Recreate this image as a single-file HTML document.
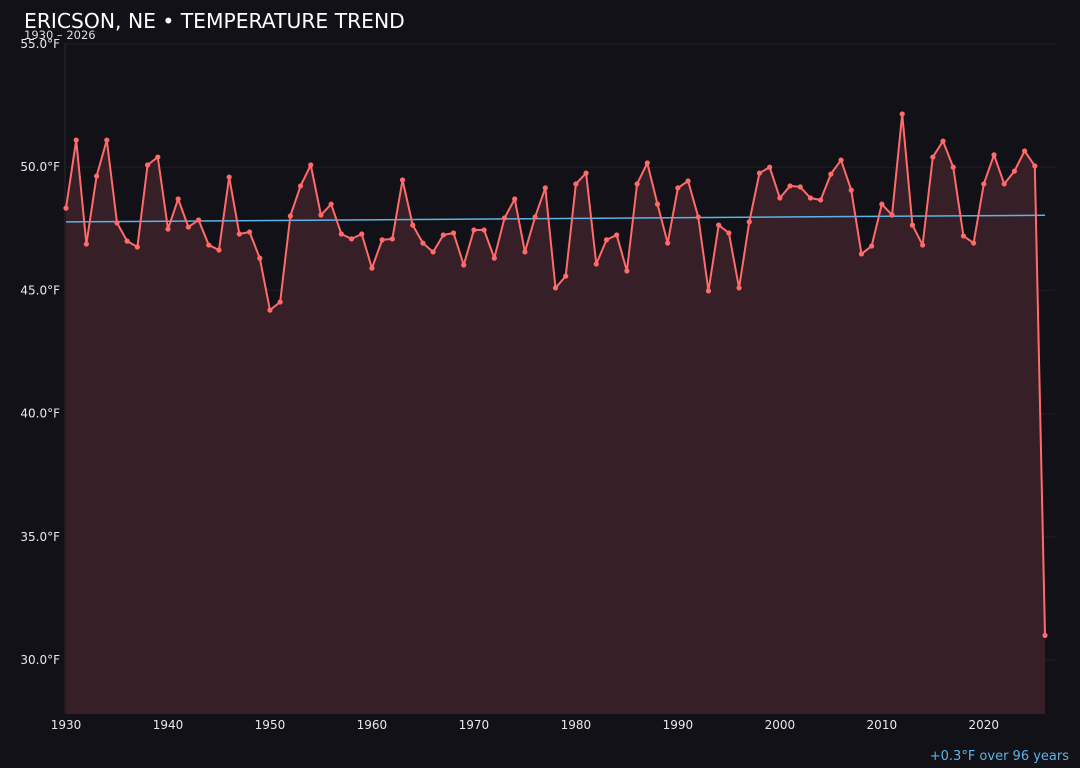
<!DOCTYPE html>
<html><head><meta charset="utf-8"><style>
html,body{margin:0;background:#121117;width:1080px;height:768px;overflow:hidden;font-family:"DejaVu Sans","Liberation Sans",sans-serif}
svg{display:block}
</style></head><body>
<svg id="chart" width="1080" height="768" xmlns="http://www.w3.org/2000/svg" font-family="DejaVu Sans, Liberation Sans, sans-serif">
<rect width="1080" height="768" fill="#121117"/>
<text x="24" y="28" fill="#ffffff" font-size="20.3">ERICSON, NE • TEMPERATURE TREND</text>
<text x="24" y="39" fill="#dddddd" font-size="11.5">1930 – 2026</text>
<text x="1069" y="760" fill="#5ab4e8" font-size="13" text-anchor="end">+0.3°F over 96 years</text>
<g id="grid"></g><g id="axes"></g><g id="marks"></g>
</svg>
<script>
const years=[];for(let y=1930;y<=2026;y++)years.push(y);
const temps=[48.34,51.1,46.88,49.64,51.1,47.74,47.0,46.76,50.09,50.41,47.49,48.71,47.57,47.86,46.84,46.64,49.6,47.29,47.37,46.31,44.2,44.53,48.02,49.24,50.09,48.06,48.5,47.29,47.09,47.29,45.9,47.05,47.09,49.48,47.65,46.92,46.56,47.25,47.33,46.03,47.45,47.45,46.31,47.94,48.71,46.56,47.98,49.16,45.1,45.58,49.32,49.76,46.07,47.05,47.25,45.79,49.32,50.17,48.5,46.92,49.16,49.44,47.98,44.98,47.65,47.33,45.1,47.78,49.76,50.0,48.75,49.24,49.2,48.75,48.67,49.72,50.29,49.07,46.48,46.8,48.5,48.06,52.16,47.65,46.84,50.41,51.06,50.0,47.21,46.92,49.32,50.5,49.32,49.84,50.66,50.05,31.0];
const yTicks=[30,35,40,45,50,55];
const xTicks=[1930,1940,1950,1960,1970,1980,1990,2000,2010,2020];
const trendStart=47.78, trendEnd=48.05;
const NS="http://www.w3.org/2000/svg";
const L=65,R=1055,B=714;
const x=v=>66+(v-1930)*(1045-66)/96;
const y=v=>44+(55-v)*24.64;
function mk(tag,attrs,parent){const e=document.createElementNS(NS,tag);for(const k in attrs)e.setAttribute(k,attrs[k]);document.getElementById(parent).appendChild(e);return e;}
yTicks.forEach(t=>{
 const g=mk('line',{x1:L,x2:R,y1:y(t),y2:y(t),stroke:'#1f1e25','stroke-width':1},'grid');
 
 
 const tx=mk('text',{x:60,y:y(t)+4,fill:'#e8e8e8','font-size':12,'text-anchor':'end'},'axes');
 tx.textContent=t.toFixed(1)+'°F';
 
 
});
const ax=mk('line',{x1:L,x2:L,y1:44,y2:B,stroke:'#2a2930'},'axes');


xTicks.forEach(t=>{
 const tx=mk('text',{x:x(t),y:729,fill:'#e8e8e8','font-size':12,'text-anchor':'middle'},'axes');
 tx.textContent=t;
 
 
});
let d='';years.forEach((yr,i)=>{d+=(i?'L':'M')+x(yr)+','+y(temps[i]);});
const area=mk('path',{d:d+'L'+x(2026)+','+B+'L'+x(1930)+','+B+'Z',fill:'#361f26'},'marks');


const tl=mk('line',{x1:x(1930),y1:y(trendStart),x2:x(2026),y2:y(trendEnd),stroke:'#5ab4e8','stroke-width':1.5},'marks');


const ln=mk('path',{d:d,fill:'none',stroke:'#ff6b6b','stroke-width':2,'stroke-linejoin':'round'},'marks');


years.forEach((yr,i)=>{
 const c=mk('circle',{cx:x(yr),cy:y(temps[i]),r:2.6,fill:'#ff6b6b'},'marks');
 
 
});
</script>
</body></html>
